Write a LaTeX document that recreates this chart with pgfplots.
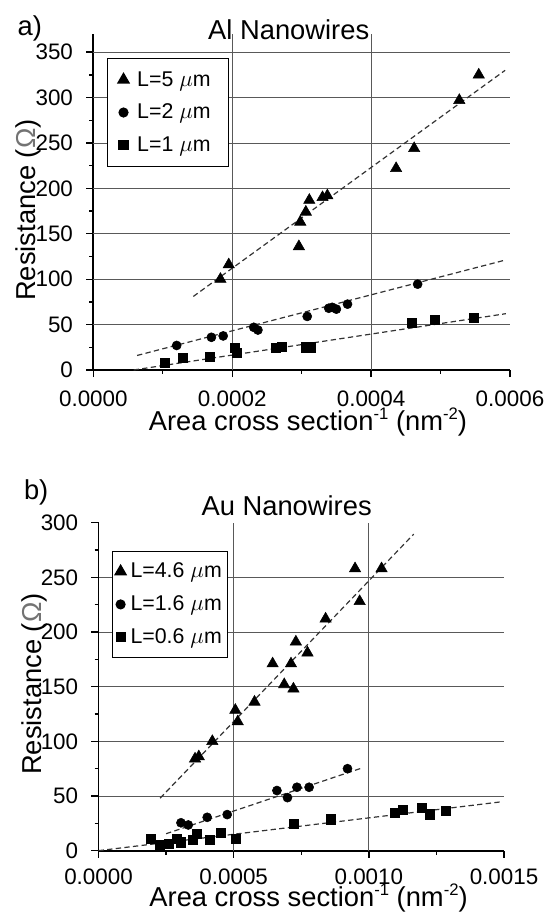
\documentclass[border=0pt]{standalone}
\usepackage{pgfplots}
\pgfplotsset{compat=1.18}
\usepackage{fontspec}
\setmainfont{Liberation Sans}

\newcommand{\tickfont}{\fontsize{16.8}{18}\selectfont}
\newcommand{\labfont}{\fontsize{20.5}{22}\selectfont}
\newcommand{\sups}[1]{\raisebox{0.41em}{\fontsize{12.5}{13}\selectfont #1}}

\pgfplotsset{
  nw/.style={
    scale only axis,
    anchor=south west,
    axis lines*=left,
    x axis line style={-, line width=1.3pt},
    y axis line style={-, line width=1.3pt},
    tick align=outside,
    major tick length=5.3pt,
    minor tick length=3pt,
    tick style={black, line width=1pt},
    minor tick num=1,
    ymin=0, xmin=0,
    clip=false,
    scaled x ticks=false,
    /pgf/number format/assume math mode=true,
    tick label style={font=\tickfont, inner sep=2pt},
    xticklabel style={/pgf/number format/fixed, /pgf/number format/fixed zerofill,
      /pgf/number format/precision=4},
    yticklabel style={xshift=-7.8pt},
    label style={font=\labfont, inner sep=1pt},
    major grid style={black!65, line width=0.6pt},
    extra x tick style={grid=major, major tick length=0pt},
    extra y tick style={grid=major, major tick length=0pt},
    legend cell align=left,
    legend style={draw=black, line width=0.8pt, font=\fontsize{16}{19}\selectfont,
      row sep=8pt},
    legend image code/.code={\draw[#1] plot coordinates {(0pt,0pt)};},
  },
  tri/.style={only marks, mark=triangle*, mark size=4.9pt, black},
  cir/.style={only marks, mark=*, mark size=3.4pt, black},
  sqr/.style={only marks, mark=square*, mark size=3.4pt, black},
  fit/.style={black!80, line width=0.9pt, dash pattern=on 4pt off 2.5pt, forget plot},
}

\begin{document}
\begin{tikzpicture}
\path[use as bounding box] (0,0) rectangle (408.75pt,687pt);

\node[anchor=base west, font=\labfont, inner sep=0pt] at (13pt,660pt) {a)};
\node[anchor=base west, font=\labfont, inner sep=0pt] at (17.8pt,312pt) {b)};

% panel a
\begin{axis}[nw,
  at={(70pt,409.5pt)}, width=312.5pt, height=252pt,
  xmax=0.0006, ymax=370,
  xtick={0,0.0002,0.0004,0.0006},
  ytick={0,50,...,350},
  xticklabel style={yshift=-7.8pt},
  extra x ticks={0.0002,0.0004}, extra x tick labels={},
  extra y ticks={50,100,...,350}, extra y tick labels={},
  title={\labfont Al Nanowires},
  title style={at={(0.469,1)}, anchor=base, yshift=-10.5pt},
  xlabel={Area cross section\sups{-1} (nm\sups{-2})},
  xlabel style={at={(axis description cs:0.515,-0.1815)}, anchor=base},
  ylabel={Resistance ({\color{black!55}Ω})},
  ylabel style={at={(axis description cs:-0.139,0.476)}, anchor=base},
  legend style={at={(0.032,0.928)}, anchor=north west,
    inner xsep=8pt, inner ysep=7.5pt},
]
\addplot[tri] coordinates {
(0.000183,100) (0.000195,116) (0.000296,136) (0.000298,163) (0.000306,174)
(0.000311,187) (0.000330,190) (0.000337,192) (0.000436,222) (0.000462,244)
(0.000527,297) (0.000555,325)
};
\addlegendentry{\hspace*{4pt}L=5 $\mu$m\rule{3.7pt}{0pt}}
\addplot[cir] coordinates {
(0.000120,27) (0.000170,36) (0.000187,37.5) (0.000231,47) (0.000237,44)
(0.000308,59) (0.000339,68) (0.000344,69) (0.000350,67) (0.000366,72.5)
(0.000467,94.5)
};
\addlegendentry{\hspace*{4pt}L=2 $\mu$m}
\addplot[sqr] coordinates {
(0.000103,7.5) (0.000129,13) (0.000167,15) (0.000204,24) (0.000206,19)
(0.000263,24) (0.000272,26) (0.000306,25) (0.000313,25) (0.000459,51.5)
(0.000492,55) (0.000548,57)
};
\addlegendentry{\hspace*{4pt}L=1 $\mu$m}
\addplot[fit] coordinates {(0.000144,81) (0.000593,330)};
\addplot[fit] coordinates {(0.000063,16) (0.000593,121)};
\addplot[fit] coordinates {(0.000058,0) (0.000594,62)};
\end{axis}

% panel b
\begin{axis}[nw,
  at={(73.9pt,49pt)}, width=304.1pt, height=246pt,
  xmax=0.0015, ymax=300,
  xtick={0,0.0005,0.0010,0.0015},
  ytick={0,50,...,300},
  xticklabel style={yshift=-5.8pt},
  extra x ticks={0.0005,0.0010}, extra x tick labels={},
  extra y ticks={50,100,...,250}, extra y tick labels={},
  title={\labfont Au Nanowires},
  title style={at={(0.464,1)}, anchor=base, yshift=-0.5pt},
  xlabel={Area cross section\sups{-1} (nm\sups{-2})},
  xlabel style={at={(axis description cs:0.518,-0.171)}, anchor=base},
  ylabel={Resistance ({\color{black!55}Ω})},
  ylabel style={at={(axis description cs:-0.141,0.508)}, anchor=base},
  legend style={at={(0.0326,0.915)}, anchor=north west,
    inner xsep=2pt, inner ysep=7pt},
]
\addplot[tri] coordinates {
(0.000357,84) (0.000371,86) (0.000421,100) (0.000506,128.5) (0.000515,118)
(0.000577,136) (0.000644,171) (0.000687,152) (0.000712,171) (0.000721,148)
(0.000730,191) (0.000773,181) (0.000840,212) (0.000949,258) (0.000966,228)
(0.001047,258)
};
\addlegendentry{\hspace*{1.2pt}L=4.6 $\mu$m}
\addplot[cir] coordinates {
(0.000305,25.5) (0.000332,23.5) (0.000402,30.5) (0.000476,33) (0.000660,55)
(0.000699,48.5) (0.000734,58) (0.000779,58) (0.000921,75)
};
\addlegendentry{\hspace*{1.2pt}L=1.6 $\mu$m}
\addplot[sqr] coordinates {
(0.000193,10.7) (0.000225,5) (0.000260,6.7) (0.000290,10.7) (0.000305,7.7)
(0.000348,9.8) (0.000364,15.3) (0.000410,9.8) (0.000453,16.5) (0.000506,11.3)
(0.000721,25) (0.000860,28.7) (0.001095,34.7) (0.001127,37.2) (0.001195,39.3)
(0.001224,33.3) (0.001284,36.6)
};
\addlegendentry{\hspace*{1.2pt}L=0.6 $\mu$m}
\addplot[fit] coordinates {(0.000228,48) (0.001166,289.5)};
\addplot[fit] coordinates {(0.000250,15.5) (0.000979,76)};
\addplot[fit] coordinates {(0,0) (0.001494,44.8)};
\end{axis}
\end{tikzpicture}
\end{document}
